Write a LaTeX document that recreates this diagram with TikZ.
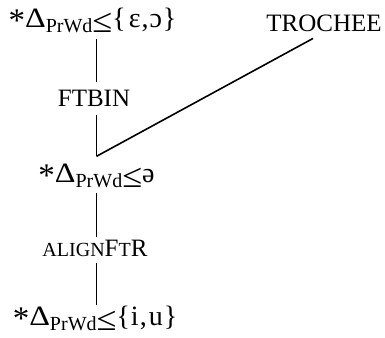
\documentclass[tikz,border=0pt]{standalone}
\usepackage{graphicx}
\usepackage{fontspec}
\setmainfont{Liberation Serif}
\newcommand{\prwd}{\raisebox{-5pt}{\fontsize{20}{20}\selectfont PrWd}}
\newcommand{\smcap}[1]{{\fontsize{20}{20}\selectfont #1}}
\newcommand{\lesym}{\raisebox{-5pt}{\scalebox{1.45}[1.35]{≤}}}
\newcommand{\starmark}{\raisebox{-4pt}{\fontsize{33}{33}\selectfont *}}
\newcommand{\bigdelta}{\scalebox{1.15}[1]{\fontsize{28}{28}\selectfont Δ}}
\newcommand{\constr}[1]{\starmark\bigdelta\prwd\lesym{\fontsize{28}{28}\selectfont #1}}

\begin{document}
\begin{tikzpicture}[x=1pt, y=-1pt,
    every node/.style={font=\fontsize{25}{30}\selectfont, inner sep=0pt, anchor=base},
    link/.style={line width=1.6pt}]
    \useasboundingbox (0,0) rectangle (385,337);

    \node (top) at (92.5,28) {\constr{\{\kern3pt ɛ\kern1pt,\kern1pt ɔ\kern1pt\}}};
    \node (ftbin) at (94,106) {FTBIN};
    \node (mid) at (96.5,182) {\constr{ə}};
    \node (align) at (95,256) {\smcap{ALIGN}F\smcap{T}R};
    \node (bot) at (95,325) {\constr{\{\kern1pt i\kern1pt,\kern2pt u\kern1pt\}}};
    \node (troch) at (324,32) {TROCHEE};

    \draw[link, shorten <=5pt, shorten >=7pt] (mid.south |- top.south) -- (mid.south |- ftbin.north);
    \draw[link, shorten <=9pt, shorten >=7pt] (mid.south |- ftbin.south) -- (mid.north);
    \draw[link] ([shift={(-11,6)}]troch.south) -- ([yshift=7pt]mid.north);
    \draw[link, shorten <=5pt, shorten >=2pt] (mid.south) -- (mid.south |- align.north);
    \draw[link, shorten <=7pt, shorten >=0pt] (mid.south |- align.south) -- (mid.south |- bot.north);
\end{tikzpicture}
\end{document}
